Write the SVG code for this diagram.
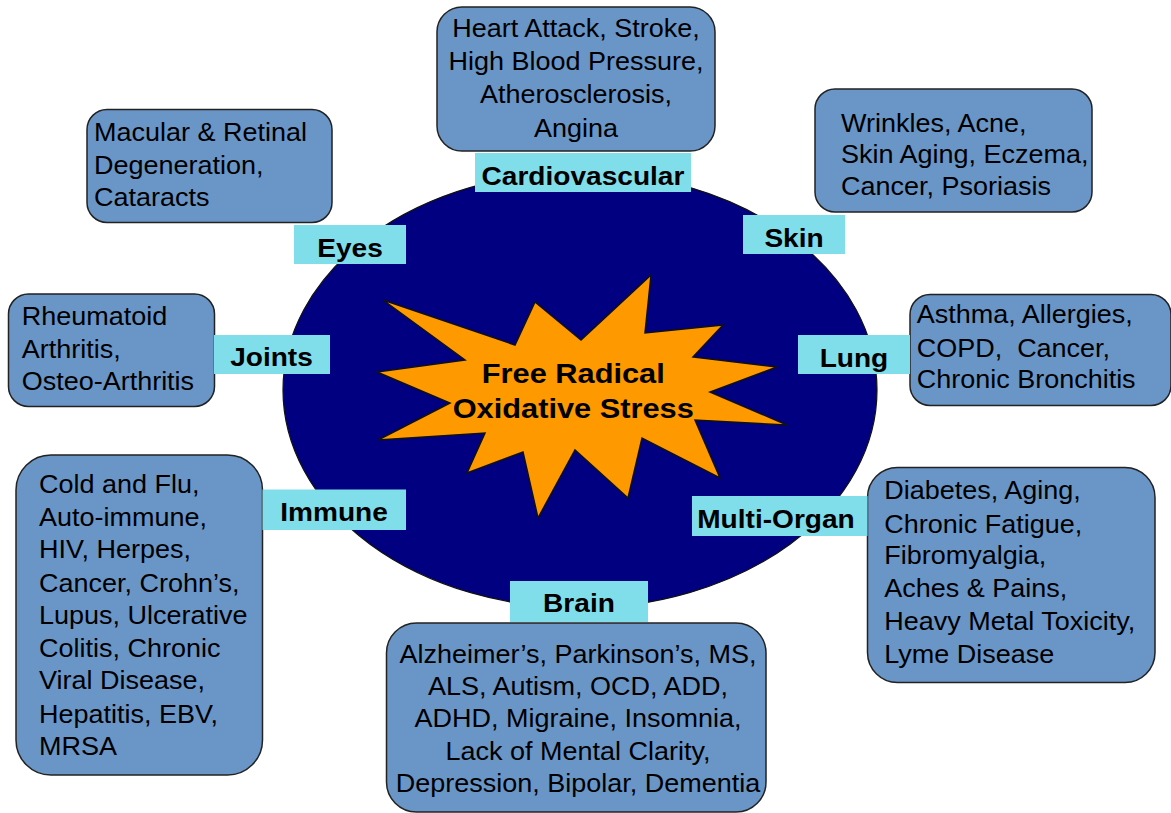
<svg xmlns="http://www.w3.org/2000/svg" width="1171" height="813" viewBox="0 0 1171 813">
<style>
.box{fill:#6A95C7;stroke:#222;stroke-width:1.5}
.lab{fill:#80DDEA}
.t{font-family:"Liberation Sans",Arial,sans-serif;font-size:25px;fill:#000}
.b{font-family:"Liberation Sans",Arial,sans-serif;font-size:26px;font-weight:bold;fill:#000;text-anchor:middle}
.m{text-anchor:middle}
</style>
<rect width="1171" height="813" fill="#fff"/>
<g id="center">
<ellipse cx="580" cy="390" rx="297" ry="218" fill="#000080" stroke="#111" stroke-width="1.2"/>
<polygon points="383,300 515,345 535,302 581,340 651,275 645,333 723,325 693,357 777,367 710,392 787,425 695,420 720,478 642,438 628,498 575,450 538,518 523,452 467,473 485,433 378,440 450,403 377,372 465,360" fill="#FF9900" stroke="#111" stroke-width="1.5" stroke-linejoin="miter"/>
<g transform="scale(1.08,1)" class="b" style="font-size:28.5px">
<text x="530.8" y="383.3">Free Radical</text>
<text x="530.8" y="418.3">Oxidative Stress</text>
</g>
</g>
<g id="cardiovascular">
<rect class="box" x="437" y="7" width="278" height="144" rx="25"/>
<g transform="scale(1.08,1)" class="t m">
<text x="533.3" y="36.7">Heart Attack, Stroke,</text>
<text x="533.3" y="70">High Blood Pressure,</text>
<text x="533.3" y="103.3">Atherosclerosis,</text>
<text x="533.3" y="136.7">Angina</text>
</g>
<rect class="lab" x="475" y="153" width="216" height="39"/>
<text transform="scale(1.08,1)" class="b" x="539.8" y="185">Cardiovascular</text>
</g>
<g id="eyes">
<rect class="box" x="87" y="109.5" width="245" height="113" rx="20"/>
<g transform="scale(1.08,1)" class="t">
<text x="87" y="140.7">Macular &amp; Retinal</text>
<text x="87" y="174">Degeneration,</text>
<text x="87" y="206">Cataracts</text>
</g>
<rect class="lab" x="294" y="225" width="112" height="39"/>
<text transform="scale(1.08,1)" class="b" x="324.1" y="256.7">Eyes</text>
</g>
<g id="skin">
<rect class="box" x="815" y="89" width="277" height="123" rx="20"/>
<g transform="scale(1.08,1)" class="t">
<text x="778.7" y="131.7">Wrinkles, Acne,</text>
<text x="778.7" y="163.3">Skin Aging, Eczema,</text>
<text x="778.7" y="195">Cancer, Psoriasis</text>
</g>
<rect class="lab" x="743" y="215" width="102" height="39"/>
<text transform="scale(1.08,1)" class="b" x="735.2" y="246.7">Skin</text>
</g>
<g id="joints">
<rect class="box" x="8.5" y="294" width="206" height="112.5" rx="20"/>
<g transform="scale(1.08,1)" class="t">
<text x="20.1" y="325">Rheumatoid</text>
<text x="20.1" y="358.3">Arthritis,</text>
<text x="20.1" y="390">Osteo-Arthritis</text>
</g>
<rect class="lab" x="214" y="335" width="116" height="39"/>
<text transform="scale(1.08,1)" class="b" x="251.4" y="366">Joints</text>
</g>
<g id="lung">
<rect class="box" x="910" y="294.5" width="261" height="111" rx="20"/>
<g transform="scale(1.08,1)" class="t">
<text x="848.8" y="323.3">Asthma, Allergies,</text>
<text x="848.8" y="356.7">COPD,&#160; Cancer,</text>
<text x="848.8" y="388.3">Chronic Bronchitis</text>
</g>
<rect class="lab" x="798" y="335" width="112" height="39"/>
<text transform="scale(1.08,1)" class="b" x="790.7" y="366.7">Lung</text>
</g>
<g id="immune">
<rect class="box" x="16" y="455" width="246.5" height="320" rx="35"/>
<g transform="scale(1.08,1)" class="t">
<text x="36.1" y="493.3">Cold and Flu,</text>
<text x="36.1" y="526">Auto-immune,</text>
<text x="36.1" y="558.3">HIV, Herpes,</text>
<text x="36.1" y="591.7">Cancer, Crohn’s,</text>
<text x="36.1" y="624.3">Lupus, Ulcerative</text>
<text x="36.1" y="656.7">Colitis, Chronic</text>
<text x="36.1" y="689.3">Viral Disease,</text>
<text x="36.1" y="722.7">Hepatitis, EBV,</text>
<text x="36.1" y="755">MRSA</text>
</g>
<rect class="lab" x="262.5" y="489.5" width="143.5" height="40.5"/>
<text transform="scale(1.08,1)" class="b" x="309.3" y="520.7">Immune</text>
</g>
<g id="multi-organ">
<rect class="box" x="867.5" y="467.5" width="287.5" height="215" rx="30"/>
<g transform="scale(1.08,1)" class="t">
<text x="818.8" y="499.3">Diabetes, Aging,</text>
<text x="818.8" y="532.7">Chronic Fatigue,</text>
<text x="818.8" y="564.3">Fibromyalgia,</text>
<text x="818.8" y="596.7">Aches &amp; Pains,</text>
<text x="818.8" y="630">Heavy Metal Toxicity,</text>
<text x="818.8" y="663.3">Lyme Disease</text>
</g>
<rect class="lab" x="692" y="496" width="175.5" height="40"/>
<text transform="scale(1.08,1)" class="b" x="718.5" y="528">Multi-Organ</text>
</g>
<g id="brain">
<rect class="box" x="386.5" y="623" width="379.5" height="189" rx="30"/>
<g transform="scale(1.08,1)" class="t m">
<text x="535.2" y="662.7">Alzheimer’s, Parkinson’s, MS,</text>
<text x="535.2" y="695">ALS, Autism, OCD, ADD,</text>
<text x="535.2" y="727.3">ADHD, Migraine, Insomnia,</text>
<text x="535.2" y="760">Lack of Mental Clarity,</text>
<text x="535.2" y="791.7">Depression, Bipolar, Dementia</text>
</g>
<rect class="lab" x="510" y="581" width="138" height="41"/>
<text transform="scale(1.08,1)" class="b" x="536.1" y="612.3">Brain</text>
</g>
<g id="connectors"></g>
</svg>
